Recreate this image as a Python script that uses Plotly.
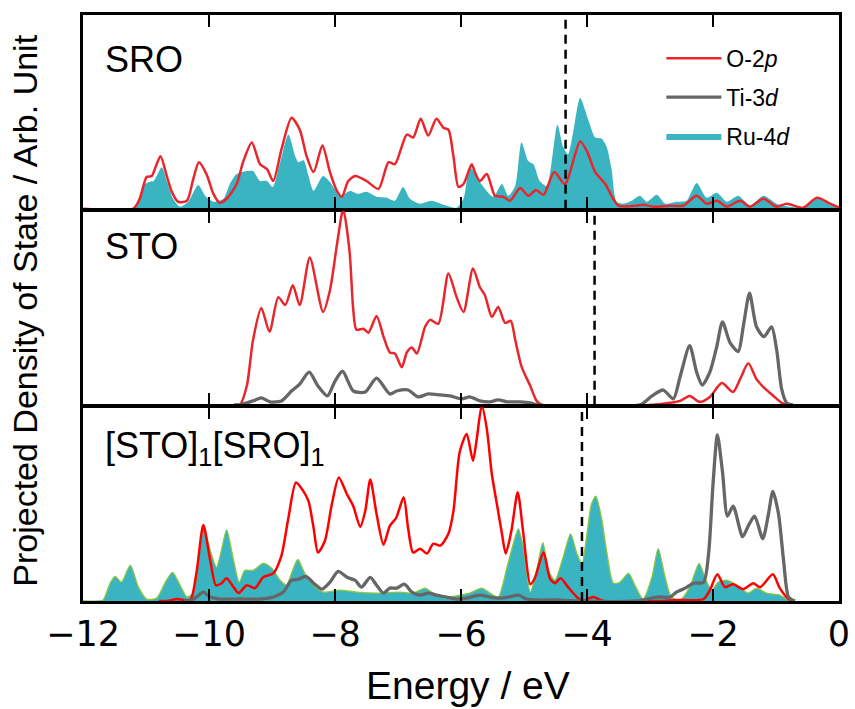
import plotly.graph_objects as go
from plotly.subplots import make_subplots

# ---------------- data (energy in eV, PDOS in arbitrary units) ----------------
# Panel 1: SRO
sro_o2p_e = [-12, -11.20, -11.10, -10.99, -10.91, -10.86, -10.77, -10.67, -10.59, -10.49, -10.35, -10.25, -10.16,
             -10.04, -9.93, -9.83, -9.72, -9.56, -9.46, -9.32, -9.19, -9.08, -8.98, -8.85, -8.69, -8.56, -8.45,
             -8.34, -8.20, -8.08, -7.97, -7.89, -7.79, -7.68, -7.50, -7.31, -7.15, -7.05, -6.86, -6.76, -6.64,
             -6.52, -6.39, -6.28, -6.20, -6.12, -6.04, -5.96, -5.83, -5.78, -5.70, -5.59, -5.46, -5.33, -5.22,
             -5.06, -4.93, -4.81, -4.69, -4.52, -4.35, -4.11, -4.00, -3.87, -3.71, -3.61, -3.50, -3.21, -3.11,
             -2.95, -2.68, -2.47, -2.26, -2.10, -1.94, -1.78, -1.57, -1.41, -1.20, -0.99, -0.83, -0.57, -0.35,
             -0.14, 0]
sro_o2p = [0, 0, 10, 32, 33, 40, 53, 33, 17, 7, 8, 30, 47,
           35, 15, 6, 10, 25, 47, 67, 45, 40, 28, 60, 92, 80, 53,
           37, 64, 37, 18, 12, 28, 33, 28, 20, 47, 45, 75, 72, 91,
           74, 91, 82, 80, 53, 22, 25, 45, 37, 28, 35, 13, 12, 8,
           21, 13, 19, 14, 37, 25, 68, 58, 37, 25, 13, 3, 3, 4,
           2, 3, 3, 13, 5, 8, 2, 8, 2, 10, 2, 5, 1, 11,
           5, 1]
sro_ru4d_e = [-12, -11.20, -11.04, -10.96, -10.88, -10.75, -10.67, -10.57, -10.46, -10.33, -10.17, -10.06, -9.93,
              -9.77, -9.67, -9.56, -9.40, -9.30, -9.19, -9.08, -8.99, -8.87, -8.74, -8.63, -8.58, -8.50, -8.42,
              -8.34, -8.19, -8.08, -7.92, -7.76, -7.63, -7.50, -7.34, -7.18, -7.05, -6.92, -6.81, -6.65, -6.47,
              -6.28, -6.07, -5.96, -5.86, -5.70, -5.49, -5.35, -5.25, -5.14, -5.04, -4.93, -4.85, -4.75, -4.64,
              -4.47, -4.38, -4.30, -4.22, -4.11, -3.98, -3.87, -3.77, -3.69, -3.61, -3.53, -3.42, -3.29, -3.16,
              -3.05, -2.89, -2.76, -2.58, -2.42, -2.26, -2.10, -1.94, -1.78, -1.60, -1.41, -1.20, -0.99, -0.78,
              -0.57, -0.35, -0.17, 0]
sro_ru4d = [0, 0, 23, 27, 28, 42, 28, 10, 2, 7, 24, 13, 7,
            10, 25, 35, 38, 38, 28, 28, 22, 47, 75, 53, 47, 49, 33,
            18, 33, 27, 13, 18, 15, 17, 12, 11, 8, 22, 10, 5, 8,
            4, 1, 10, 42, 27, 12, 25, 13, 23, 67, 48, 45, 28, 23,
            85, 63, 55, 77, 112, 90, 72, 71, 63, 40, 7, 5, 8, 13,
            7, 14, 5, 7, 8, 26, 11, 16, 7, 13, 3, 13, 5, 2,
            1, 10, 5, 0]

# Panel 2: STO
sto_o2p_e = [-9.60, -9.51, -9.40, -9.30, -9.17, -9.04, -8.90, -8.79, -8.67, -8.56, -8.40, -8.19, -8.08, -7.96,
             -7.87, -7.77, -7.71, -7.66, -7.55, -7.47, -7.34, -7.23, -7.13, -7.05, -6.94, -6.86, -6.78, -6.70,
             -6.57, -6.49, -6.36, -6.20, -6.07, -5.96, -5.81, -5.70, -5.62, -5.51, -5.41, -5.30, -5.21, -5.14,
             -5.04, -4.90, -4.80, -4.72, -2.95, -2.68, -2.52, -2.37, -2.21, -2.05, -1.86, -1.68, -1.57, -1.44,
             -1.31, -1.20, -1.04, -0.91, -0.83]
sto_o2p = [0, 0, 19, 66, 98, 74, 109, 101, 121, 101, 149, 94, 116, 166,
           198, 156, 96, 76, 77, 73, 90, 69, 53, 52, 38, 53, 58, 52,
           79, 86, 82, 133, 109, 94, 138, 119, 111, 89, 99, 83, 85, 66,
           39, 19, 4, 0, 0, 2, 4, 9, 3, 8, 22, 13, 26, 42,
           26, 18, 9, 2, 0]
sto_ti3d_e = [-9.60, -9.51, -9.30, -9.17, -9.03, -8.85, -8.69, -8.56, -8.41, -8.27, -8.12, -8.00, -7.88, -7.71,
              -7.52, -7.34, -7.13, -7.02, -6.84, -6.68, -6.52, -6.33, -6.17, -5.99, -5.86, -5.70, -5.54, -5.41,
              -5.27, -5.06, -4.90, -4.80, -3.16, -2.97, -2.79, -2.63, -2.52, -2.37, -2.26, -2.17, -2.05, -1.94,
              -1.85, -1.73, -1.60, -1.52, -1.42, -1.31, -1.19, -1.07, -0.99, -0.91, -0.83, -0.73]
sto_ti3d = [0, 0, 4, 7, 3, 4, 14, 21, 33, 19, 9, 24, 34, 14,
            13, 27, 11, 14, 15, 8, 11, 10, 9, 6, 8, 4, 3, 5,
            3, 3, 2, 0, 0, 9, 15, 6, 29, 60, 33, 20, 33, 59,
            84, 63, 54, 79, 113, 79, 69, 79, 56, 16, 2, 0]

# Panel 3: [STO]1[SRO]1
sl_o2p_e = [-10.80, -10.67, -10.51, -10.30, -10.20, -10.09, -9.98, -9.89, -9.80, -9.72, -9.61, -9.53, -9.40,
            -9.27, -9.14, -8.98, -8.85, -8.74, -8.62, -8.51, -8.42, -8.34, -8.27, -8.16, -8.05, -7.94, -7.81,
            -7.71, -7.60, -7.52, -7.44, -7.34, -7.23, -7.13, -7.03, -6.91, -6.84, -6.76, -6.65, -6.54, -6.44,
            -6.33, -6.20, -6.12, -6.02, -5.91, -5.81, -5.75, -5.67, -5.59, -5.51, -5.43, -5.35, -5.29, -5.20,
            -5.10, -5.01, -4.90, -4.83, -4.69, -4.59, -4.51, -4.42, -4.30, -4.16, -4.08, -3.90, -3.74, -2.89,
            -2.58, -2.15, -2.05, -1.93, -1.81, -1.68, -1.52, -1.36, -1.25, -1.05, -0.94, -0.80, -0.70]
sl_o2p = [0, 0, 2, 1, 28, 77, 41, 16, 18, 23, 14, 8, 16,
          13, 24, 28, 46, 84, 120, 112, 101, 74, 49, 61, 98, 125, 108,
          96, 75, 91, 123, 88, 57, 76, 84, 105, 74, 49, 53, 48, 58,
          56, 68, 91, 151, 169, 142, 164, 198, 174, 128, 98, 68, 48, 71,
          110, 68, 17, 23, 49, 23, 18, 23, 14, 4, 0, 4, 0, 0,
          1, 2, 11, 27, 14, 17, 12, 18, 14, 27, 13, 2, 0]
sl_ti3d_e = [-10.40, -10.30, -10.20, -10.09, -9.98, -9.83, -9.51, -9.19, -8.98, -8.82, -8.69, -8.58, -8.46,
             -8.34, -8.21, -8.08, -7.95, -7.81, -7.68, -7.58, -7.44, -7.34, -7.23, -7.13, -7.02, -6.90, -6.78,
             -6.65, -6.52, -6.39, -6.23, -6.07, -5.91, -5.70, -5.54, -5.38, -5.25, -5.09, -4.96, -4.75, -4.48,
             -4.16, -3.21, -2.89, -2.68, -2.58, -2.44, -2.31, -2.15, -2.07, -2.00, -1.93, -1.85, -1.77, -1.68,
             -1.53, -1.44, -1.34, -1.21, -1.12, -1.05, -0.96, -0.88, -0.80, -0.70]
sl_ti3d = [0, 0, 4, 9, 4, 2, 2, 2, 4, 9, 21, 22, 25,
           18, 12, 19, 30, 24, 21, 14, 24, 16, 8, 13, 13, 17, 9,
           6, 8, 6, 4, 2, 3, 6, 4, 3, 4, 6, 2, 1, 1,
           0, 0, 4, 4, 9, 13, 18, 19, 48, 118, 168, 131, 86, 96,
           65, 76, 86, 63, 88, 111, 88, 41, 4, 0]
sl_ru4d_e = [-12, -11.75, -11.68, -11.57, -11.49, -11.39, -11.25, -11.12, -10.99, -10.83, -10.70, -10.58, -10.46,
             -10.35, -10.25, -10.14, -10.08, -9.98, -9.88, -9.80, -9.72, -9.61, -9.52, -9.43, -9.30, -9.14, -9.00,
             -8.87, -8.77, -8.69, -8.59, -8.48, -8.34, -8.19, -7.92, -7.66, -7.34, -6.97, -6.76, -6.57, -6.44,
             -6.23, -6.02, -5.86, -5.67, -5.54, -5.41, -5.27, -5.17, -5.09, -5.01, -4.90, -4.80, -4.70, -4.61,
             -4.51, -4.38, -4.26, -4.16, -4.08, -4.00, -3.93, -3.86, -3.77, -3.69, -3.58, -3.48, -3.34, -3.24,
             -3.11, -2.97, -2.87, -2.76, -2.66, -2.52, -2.37, -2.22, -2.13, -2.02, -1.92, -1.78, -1.62, -1.44,
             -1.31, -1.15, -0.94, -0.80, -0.70]
sl_ru4d = [0, 0, 1, 18, 25, 19, 36, 14, 2, 3, 18, 29, 16,
           4, 8, 58, 73, 51, 34, 52, 72, 41, 19, 31, 31, 38, 33,
           21, 16, 28, 42, 28, 16, 9, 11, 9, 8, 9, 8, 13, 8,
           4, 6, 8, 13, 8, 4, 34, 58, 73, 54, 9, 31, 59, 31,
           21, 44, 68, 48, 38, 68, 98, 106, 84, 51, 18, 19, 28, 16,
           2, 24, 53, 24, 4, 1, 14, 38, 24, 11, 19, 21, 16, 8,
           13, 8, 6, 1, 0]

# Fermi levels (dashed lines) per panel, top to bottom
fermi_levels = [-4.34, -3.88, -4.08]
panel_labels = ["SRO", "STO", "[STO]<sub>1</sub>[SRO]<sub>1</sub>"]
tick_vals = [-12, -10, -8, -6, -4, -2, 0]
tick_text = ["\u221212", "\u221210", "\u22128", "\u22126", "\u22124", "\u22122", "0"]

# ---------------- styles ----------------
RED = "#e8262b"
RED2 = "#ff0000"
GRAY = "#666666"
TEAL = "#3bb4c2"
GREEN = "#8cc63f"
SANS = "Liberation Sans, Arial, sans-serif"
YMAX = 196
LW = 2.5

fig = make_subplots(rows=3, cols=1, shared_xaxes=True, vertical_spacing=LW / 586)


def spl(color, width):
    return dict(color=color, width=width, shape="spline", smoothing=0.7)


# Panel 1
fig.add_trace(go.Scatter(x=sro_ru4d_e, y=sro_ru4d, mode="lines", line=spl(TEAL, 0), fill="tozeroy",
                         fillcolor=TEAL, name="Ru-4<i>d</i>", legendgroup="c", legendrank=3), row=1, col=1)
fig.add_trace(go.Scatter(x=sro_o2p_e, y=sro_o2p, mode="lines", line=spl(RED, 2.5),
                         name="O-2<i>p</i>", legendgroup="a", legendrank=1), row=1, col=1)
# Panel 2
fig.add_trace(go.Scatter(x=sto_o2p_e, y=sto_o2p, mode="lines", line=spl(RED, 2.5),
                         showlegend=False), row=2, col=1)
fig.add_trace(go.Scatter(x=sto_ti3d_e, y=sto_ti3d, mode="lines", line=spl(GRAY, 3.3),
                         name="Ti-3<i>d</i>", legendgroup="b", legendrank=2), row=2, col=1)
# Panel 3
fig.add_trace(go.Scatter(x=sl_ru4d_e, y=sl_ru4d, mode="lines", line=spl(GREEN, 1.3), fill="tozeroy",
                         fillcolor=TEAL, showlegend=False), row=3, col=1)
fig.add_trace(go.Scatter(x=sl_o2p_e, y=sl_o2p, mode="lines", line=spl(RED2, 2.5),
                         showlegend=False), row=3, col=1)
fig.add_trace(go.Scatter(x=sl_ti3d_e, y=sl_ti3d, mode="lines", line=spl(GRAY, 3.3),
                         showlegend=False), row=3, col=1)

for i, ef in enumerate(fermi_levels):
    fig.add_vline(x=ef, line=dict(color="black", width=2.5, dash="9px,6px"), row=i + 1, col=1)

for i in range(3):
    fig.update_xaxes(range=[-12, 0], showline=True, linecolor="black", linewidth=LW, mirror="ticks",
                     ticks="inside", ticklen=12, tickwidth=2, tickcolor="black", showgrid=False,
                     zeroline=False, tickvals=tick_vals, ticktext=tick_text, automargin=False,
                     showticklabels=(i == 2), tickfont=dict(family="DejaVu Sans", size=35, color="black"),
                     row=i + 1, col=1)
    fig.update_yaxes(range=[0, YMAX], showline=True, linecolor="black", linewidth=LW, mirror=True,
                     ticks="", showticklabels=False, showgrid=False, zeroline=False, automargin=False,
                     row=i + 1, col=1)
    fig.add_annotation(text=panel_labels[i], xref="x domain" if i == 0 else f"x{i+1} domain",
                       yref="y domain" if i == 0 else f"y{i+1} domain", x=0.026, y=[0.77, 0.815, 0.79][i],
                       xanchor="left", yanchor="middle", showarrow=False,
                       font=dict(family=SANS, size=36, color="black"))

fig.add_annotation(text="Projected Density of State / Arb. Unit", xref="paper", yref="paper",
                   x=-0.077, y=0.495, textangle=-90, showarrow=False, xanchor="center", yanchor="middle",
                   font=dict(family=SANS, size=34, color="black"))
fig.add_annotation(text="Energy / eV", xref="paper", yref="paper", x=0.509, y=-0.145, showarrow=False,
                   xanchor="center", yanchor="middle", font=dict(family=SANS, size=39, color="black"))

fig.update_layout(
    width=855, height=709,
    margin=dict(l=83, r=16, t=15, b=108),
    paper_bgcolor="white", plot_bgcolor="white",
    legend=dict(x=0.765, y=0.963, xanchor="left", yanchor="top", traceorder="grouped", tracegroupgap=6,
                bgcolor="rgba(0,0,0,0)", itemwidth=55,
                font=dict(family=SANS, size=23, color="black")),
)

fig.write_html("out.html")
